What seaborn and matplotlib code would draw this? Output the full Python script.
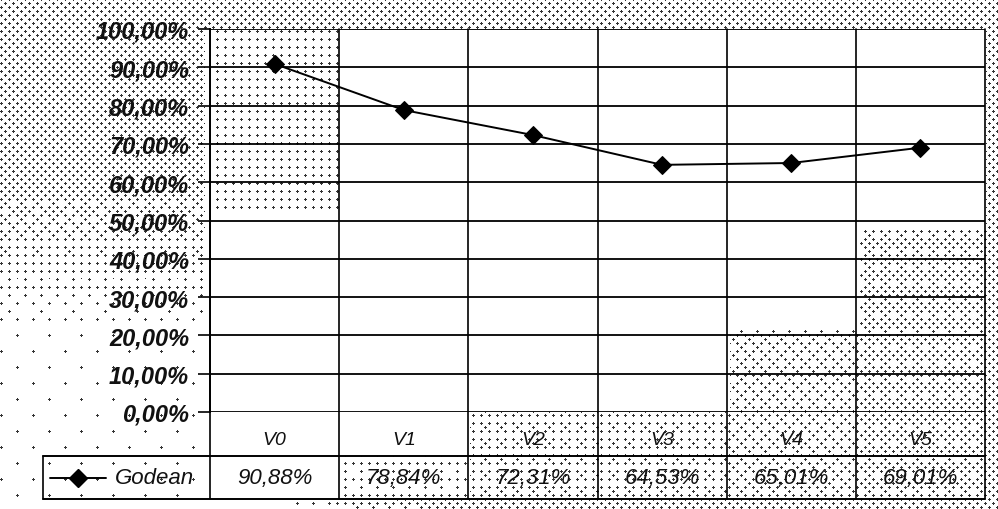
import numpy as np
import pandas as pd
import matplotlib
matplotlib.use("Agg")
import matplotlib.pyplot as plt
import matplotlib.transforms as mtransforms
from matplotlib.lines import Line2D
import seaborn as sns

# ---- data ----
categories = ["V0", "V1", "V2", "V3", "V4", "V5"]
godean = [90.88, 78.84, 72.31, 64.53, 65.01, 69.01]
value_labels = ["90,88%", "78,84%", "72,31%", "64,53%", "65,01%", "69,01%"]
series_name = "Godean"
y_ticks = [0, 10, 20, 30, 40, 50, 60, 70, 80, 90, 100]

sns.set_theme(style="white")
plt.rcParams["font.family"] = ["Liberation Sans", "DejaVu Sans"]

W, H = 998, 510
fig = plt.figure(figsize=(W / 100, H / 100), dpi=100)

# ---- halftone paper texture ----
yy, xx = np.mgrid[0:H, 0:W]
dots = ((xx + yy) % 8 < 3) & ((xx - yy) % 8 < 3)
mask = np.zeros((H, W))
outside = (xx < 205) | (yy < 30) | (xx > 985) | (yy > 500)
mask[outside] = 1.0
left = (xx < 205) & (yy > 180)
mask[left] = np.clip(1 - (yy[left] - 180) / 160.0, 0.05, 1)
bottom_left = (yy > 500) & (xx < 450)
mask[bottom_left] = np.clip((xx[bottom_left] - 250) / 200.0, 0, 1)
mask[(xx >= 210) & (xx < 340) & (yy >= 30) & (yy < 215)] = 0.45
mask[(xx >= 730) & (xx <= 985) & (yy >= 330) & (yy <= 500)] = 0.75
mask[(xx >= 860) & (xx <= 985) & (yy >= 230) & (yy <= 500)] = 0.85
mask[(xx >= 470) & (xx < 730) & (yy >= 413) & (yy <= 500)] = 0.6
mask[(xx >= 340) & (xx < 470) & (yy >= 457) & (yy <= 500)] = 0.35
bayer = np.array([[0, 8, 2, 10], [12, 4, 14, 6], [3, 11, 1, 9], [15, 7, 13, 5]]) / 16.0
ii = ((xx + yy) // 8) % 4
jj = ((xx - yy) // 8) % 4
keep = dots & (mask > bayer[ii, jj])
img = np.ones((H, W, 3))
img[keep] = 0.2
fig.figimage(img, 0, 0, zorder=-5, origin="upper")

# ---- axes ----
ax_l, ax_r, ax_t, ax_b = 210, 985, 30, 413
ax = fig.add_axes([ax_l / W, 1 - ax_b / H, (ax_r - ax_l) / W, (ax_b - ax_t) / H])
ax.set_zorder(2)
ax.set_facecolor("none")
ax.patch.set_alpha(0)

df = pd.DataFrame({"Version": categories, "Value": godean})
sns.lineplot(data=df, x="Version", y="Value", ax=ax, color="black", lw=1.4,
             marker="D", markersize=9, markeredgecolor="black", sort=False, zorder=5)

ax.set_xlim(-0.5, len(categories) - 0.5)
ax.set_ylim(0, 100)
ax.set_yticks(y_ticks)
ax.set_yticklabels([f"{v:.2f}".replace(".", ",") + "%" for v in y_ticks],
                   fontsize=17, fontstyle="italic", fontweight="bold", color="#111")
ax.tick_params(axis="y", length=9, width=1.2, color="black", pad=6, left=True)
ax.set_xticks(range(len(categories)))
ax.set_xticklabels(categories, fontsize=14, fontstyle="italic", color="#111")
ax.tick_params(axis="x", length=0, pad=14)
ax.set_xlabel("")
ax.set_ylabel("")
for s in ["top", "right", "bottom"]:
    ax.spines[s].set_visible(False)
ax.spines["left"].set_color("black")
ax.spines["left"].set_linewidth(1.4)

for v in y_ticks:
    ax.axhline(v, color="black", lw=1.3, zorder=1)

# data table below the axis
def ay(px):
    return (ax_b - px) / (ax_b - ax_t)

def axx(px):
    return (px - ax_l) / (ax_r - ax_l) * len(categories) - 0.5

trans = mtransforms.blended_transform_factory(ax.transData, ax.transAxes)
tab_top, tab_bot, tab_left = 457, 500, 43
for k in range(len(categories) + 1):
    xb = k - 0.5
    ax.add_line(Line2D([xb, xb], [ay(tab_bot), 1.0], transform=trans, color="black",
                       lw=1.2, clip_on=False))
for yp in (tab_top, tab_bot):
    ax.add_line(Line2D([axx(tab_left), len(categories) - 0.5], [ay(yp)] * 2,
                       transform=trans, color="black", lw=1.4, clip_on=False))
ax.add_line(Line2D([axx(tab_left)] * 2, [ay(tab_bot), ay(tab_top)],
                   transform=trans, color="black", lw=1.2, clip_on=False))

row_y = ay((tab_top + tab_bot) / 2)
ax.add_line(Line2D([axx(50), axx(106)], [row_y] * 2, transform=trans,
                   color="black", lw=1.4, clip_on=False))
ax.add_line(Line2D([axx(78)], [row_y], transform=trans, color="black",
                   marker="D", markersize=9, clip_on=False))
ax.text(axx(115), row_y, series_name, transform=trans, ha="left", va="center",
        fontsize=16, fontstyle="italic", color="#111")
for i, lab in enumerate(value_labels):
    ax.text(i, row_y, lab, transform=trans, ha="center", va="center",
            fontsize=16, fontstyle="italic", color="#111")

fig.savefig("out.png", dpi=100)
